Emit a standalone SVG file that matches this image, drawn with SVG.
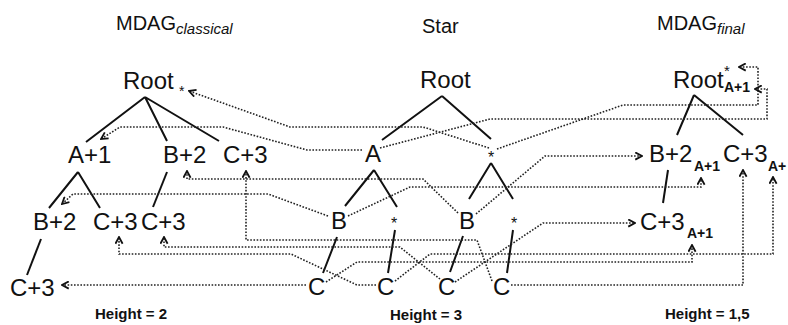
<svg xmlns="http://www.w3.org/2000/svg" width="788" height="325" viewBox="0 0 788 325">
<style>
  .t{font-family:"Liberation Sans",Arial,sans-serif;fill:#111}
  .n{font-size:24px}
  .ti{font-size:20px}
  .sb{font-size:15px;font-style:italic}
  .ss{font-size:14px;font-weight:bold}
  .st{font-size:16px}
  .h{font-size:15px;font-weight:bold}
  .e{stroke:#111;stroke-width:2;fill:none}
  .c{stroke:#222;stroke-width:1.6;stroke-dasharray:1.6 1.6;fill:none;marker-end:url(#ah)}
</style>
<defs>
  <marker id="ah" viewBox="0 0 10 10" refX="9" refY="5" markerWidth="9" markerHeight="9" markerUnits="userSpaceOnUse" orient="auto">
    <path d="M1.5,1 L9,5 L1.5,9" fill="none" stroke="#111" stroke-width="2"/>
  </marker>
</defs>
<rect width="788" height="325" fill="#fff"/>

<g id="titles">
  <text class="t ti" x="116" y="30">MDAG<tspan class="sb" dy="4">classical</tspan></text>
  <text class="t ti" x="422" y="33">Star</text>
  <text class="t ti" x="657" y="30">MDAG<tspan class="sb" dy="4">final</tspan></text>
  <text class="t h" x="95" y="319">Height = 2</text>
  <text class="t h" x="390" y="320">Height = 3</text>
  <text class="t h" x="665" y="319">Height = 1,5</text>
</g>

<g id="classical-edges">
  <path class="e" d="M145,97 L86,142 M145,97 L167,141 M145,97 L219,141"/>
  <path class="e" d="M78,172 L49,208 M78,172 L100,208"/>
  <path class="e" d="M167,172 L153,207"/>
  <path class="e" d="M41,239 L27,275"/>
</g>
<g id="c-root"><text class="t n" x="123" y="89">Root</text><text class="t" x="179" y="96" font-size="14">*</text></g>
<g id="c-a1"><text class="t n" x="68" y="163">A+1</text></g>
<g id="c-b2"><text class="t n" x="163" y="163">B+2</text></g>
<g id="c-c3"><text class="t n" x="223" y="163">C+3</text></g>
<g id="c-a1-b2"><text class="t n" x="33" y="230">B+2</text></g>
<g id="c-a1-c3"><text class="t n" x="93" y="230">C+3</text></g>
<g id="c-b2-c3"><text class="t n" x="141" y="230">C+3</text></g>
<g id="c-a1-b2-c3"><text class="t n" x="10" y="296">C+3</text></g>

<g id="star-edges">
  <path class="e" d="M442,96 L382,140 M442,96 L491,139"/>
  <path class="e" d="M374,170 L345,206 M374,170 L397,207"/>
  <path class="e" d="M491,163 L469,199 M491,163 L513,199"/>
  <path class="e" d="M337,237 L323,273 M395,230 L388,273 M463,236 L450,272 M513,230 L507,273"/>
</g>
<g id="s-root"><text class="t n" x="420" y="88">Root</text></g>
<g id="s-a"><text class="t n" x="365" y="162">A</text></g>
<g id="s-star"><text class="t st" x="491" y="163" text-anchor="middle">*</text></g>
<g id="s-a-b"><text class="t n" x="331" y="229">B</text></g>
<g id="s-a-star"><text class="t st" x="394" y="229" text-anchor="middle">*</text></g>
<g id="s-star-b"><text class="t n" x="459" y="229">B</text></g>
<g id="s-star-star"><text class="t st" x="514" y="229" text-anchor="middle">*</text></g>
<g id="s-c1"><text class="t n" x="308" y="295">C</text></g>
<g id="s-c2"><text class="t n" x="377" y="295">C</text></g>
<g id="s-c3"><text class="t n" x="438" y="295">C</text></g>
<g id="s-c4"><text class="t n" x="493" y="295">C</text></g>

<g id="final-edges">
  <path class="e" d="M694,95 L677,135 M694,95 L743,135"/>
  <path class="e" d="M668,170 L663,203"/>
</g>
<g id="f-root"><text class="t n" x="673" y="88">Root</text><text class="t" x="724" y="76" font-size="15">*</text><text class="t ss" x="724" y="92">A+1</text></g>
<g id="f-b2"><text class="t n" x="649" y="162">B+2</text><text class="t ss" x="694" y="171">A+1</text></g>
<g id="f-c3"><text class="t n" x="723" y="162">C+3</text><text class="t ss" x="768" y="171">A+</text></g>
<g id="f-b2-c3"><text class="t n" x="640" y="230">C+3</text><text class="t ss" x="687" y="238">A+1</text></g>

<g id="connectors">
  <polyline class="c" points="489,148 423,127 290,127 189,91"/>
  <polyline class="c" points="362,150 307,150 223,127 120,127 101,139"/>
  <polyline class="c" points="328,216 268,194 73,194 62,204"/>
  <polyline class="c" points="458,213 423,179 187,179 187,171"/>
  <polyline class="c" points="492,281 477,240 246,240 246,171"/>
  <polyline class="c" points="440,279 400,247 164,247 164,237"/>
  <polyline class="c" points="376,285 357,285 291,254 119,254 119,237"/>
  <polyline class="c" points="306,285 62,285"/>
  <polyline class="c" points="497,149 623,105 758,105 758,67 739,67"/>
  <polyline class="c" points="380,148 490,119 767,119 767,89 755,89"/>
  <polyline class="c" points="476,214 545,156 642,156"/>
  <polyline class="c" points="348,216 410,187 701,187 701,178"/>
  <polyline class="c" points="455,282 543,223 635,223"/>
  <polyline class="c" points="511,285 743,285 743,170"/>
  <polyline class="c" points="395,281 430,254 773,254 773,177"/>
  <polyline class="c" points="326,282 357,262 692,262 692,245"/>
</g>
</svg>
